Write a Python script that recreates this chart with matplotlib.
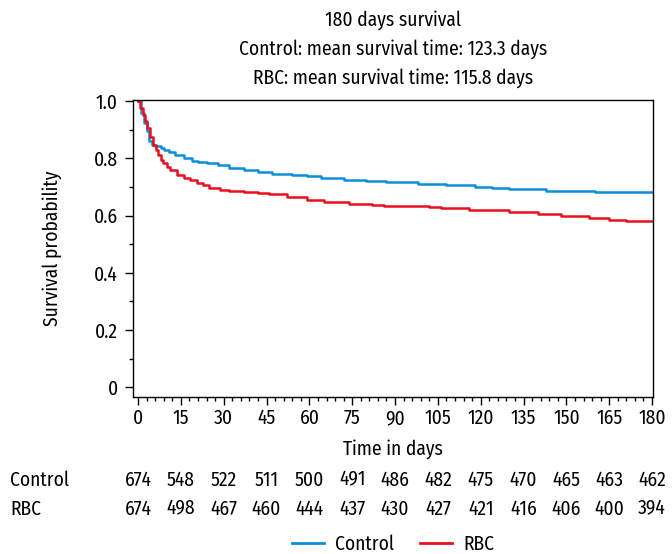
import numpy as np
import matplotlib.pyplot as plt
from matplotlib.lines import Line2D
from matplotlib.ticker import MultipleLocator
import matplotlib.transforms as mtransforms
from matplotlib import font_manager

names = set(f.name for f in font_manager.fontManager.ttflist)
wanted = ['Fira Sans Condensed', 'Roboto Condensed', 'Barlow Semi Condensed', 'Archivo Narrow']
fam = [n for n in wanted if n in names][:1]
plt.rcParams['font.family'] = fam + ['DejaVu Sans']

# survival curves (step points)
t_control = [0, 1, 2, 3, 4, 5, 6, 8, 9, 11, 13, 16, 19, 21, 24, 28, 32, 37, 42, 47, 54, 59, 64, 72, 80, 87, 98, 108, 118, 124, 130, 143, 160, 180]
s_control = [1.0, 0.96, 0.925, 0.895, 0.86, 0.848, 0.842, 0.836, 0.83, 0.822, 0.813, 0.802, 0.79, 0.786, 0.782, 0.776, 0.768, 0.759, 0.753, 0.747, 0.741, 0.737, 0.733, 0.724, 0.72, 0.716, 0.711, 0.706, 0.700, 0.696, 0.692, 0.686, 0.682, 0.682]

t_rbc = [0, 0.7, 1.9, 2.5, 3, 4.2, 5.4, 6.2, 7.1, 8, 8.9, 10, 11.2, 13.5, 16, 18.2, 20.5, 22.9, 25, 28.7, 32, 37, 42, 46, 52, 59, 65, 74, 82, 86, 102, 106, 116, 130, 140, 148, 158, 165, 171, 180]
s_rbc = [1.0, 0.975, 0.951, 0.93, 0.905, 0.875, 0.846, 0.83, 0.811, 0.795, 0.782, 0.77, 0.759, 0.741, 0.732, 0.724, 0.715, 0.706, 0.697, 0.689, 0.686, 0.683, 0.679, 0.675, 0.665, 0.656, 0.648, 0.642, 0.636, 0.633, 0.630, 0.628, 0.621, 0.613, 0.607, 0.599, 0.593, 0.586, 0.581, 0.581]

# numbers at risk
risk_times = [0, 15, 30, 45, 60, 75, 90, 105, 120, 135, 150, 165, 180]
risk_control = [674, 548, 522, 511, 500, 491, 486, 482, 475, 470, 465, 463, 462]
risk_rbc = [674, 498, 467, 460, 444, 437, 430, 427, 421, 416, 406, 400, 394]

col_control = '#0a8fd8'
col_rbc = '#e8101e'
fs = 14

fig = plt.figure(figsize=(6.72, 5.54), dpi=100)
ax = fig.add_axes([0.198, 0.283, 0.774, 0.536])

ax.step(t_control, s_control, where='post', color=col_control, lw=1.8)
ax.step(t_rbc, s_rbc, where='post', color=col_rbc, lw=1.8)

ax.set_xlim(-1.75, 180.4)
ax.set_ylim(-0.035, 1.003)
ax.set_xticks(risk_times)
ax.set_yticks([0, 0.2, 0.4, 0.6, 0.8, 1.0])
ax.set_yticklabels(['0', '0.2', '0.4', '0.6', '0.8', '1.0'])
ax.xaxis.set_minor_locator(MultipleLocator(3))
ax.yaxis.set_minor_locator(MultipleLocator(0.1))
ax.tick_params(which='major', length=6, width=1, labelsize=fs, pad=2)
ax.tick_params(axis='y', which='major', pad=5)
ax.tick_params(which='minor', length=3, width=1)
for sp in ax.spines.values():
    sp.set_linewidth(1)

ax.set_xlabel('Time in days', fontsize=fs, va='center')
ax.xaxis.set_label_coords(0.5, -0.175)
ax.set_ylabel('Survival probability', fontsize=fs, va='center')
ax.yaxis.set_label_coords(-0.156, 0.5)

cx = 393 / 672
fig.text(cx, 1 - 18 / 554, '180 days survival', ha='center', va='center_baseline', fontsize=fs)
fig.text(cx, 1 - 47 / 554, 'Control: mean survival time: 123.3 days', ha='center', va='center_baseline', fontsize=fs)
fig.text(cx, 1 - 76 / 554, 'RBC: mean survival time: 115.8 days', ha='center', va='center_baseline', fontsize=fs)

tr = mtransforms.blended_transform_factory(ax.transData, fig.transFigure)
y1 = 1 - 478 / 554
y2 = 1 - 507 / 554
fig.text(10 / 672, y1, 'Control', ha='left', va='center_baseline', fontsize=fs)
fig.text(10 / 672, y2, 'RBC', ha='left', va='center_baseline', fontsize=fs)
for t, a, b in zip(risk_times, risk_control, risk_rbc):
    fig.text(t, y1, str(a), ha='center', va='center_baseline', fontsize=fs, transform=tr)
    fig.text(t, y2, str(b), ha='center', va='center_baseline', fontsize=fs, transform=tr)

handles = [Line2D([], [], color=col_control, lw=2), Line2D([], [], color=col_rbc, lw=2)]
fig.legend(handles, ['Control', 'RBC'], loc='center', bbox_to_anchor=(cx, 10 / 554),
           ncol=2, frameon=False, fontsize=fs, handlelength=1.65, handletextpad=0.57,
           columnspacing=1.34, borderaxespad=0, borderpad=0)

fig.savefig('out.png', dpi=100)
